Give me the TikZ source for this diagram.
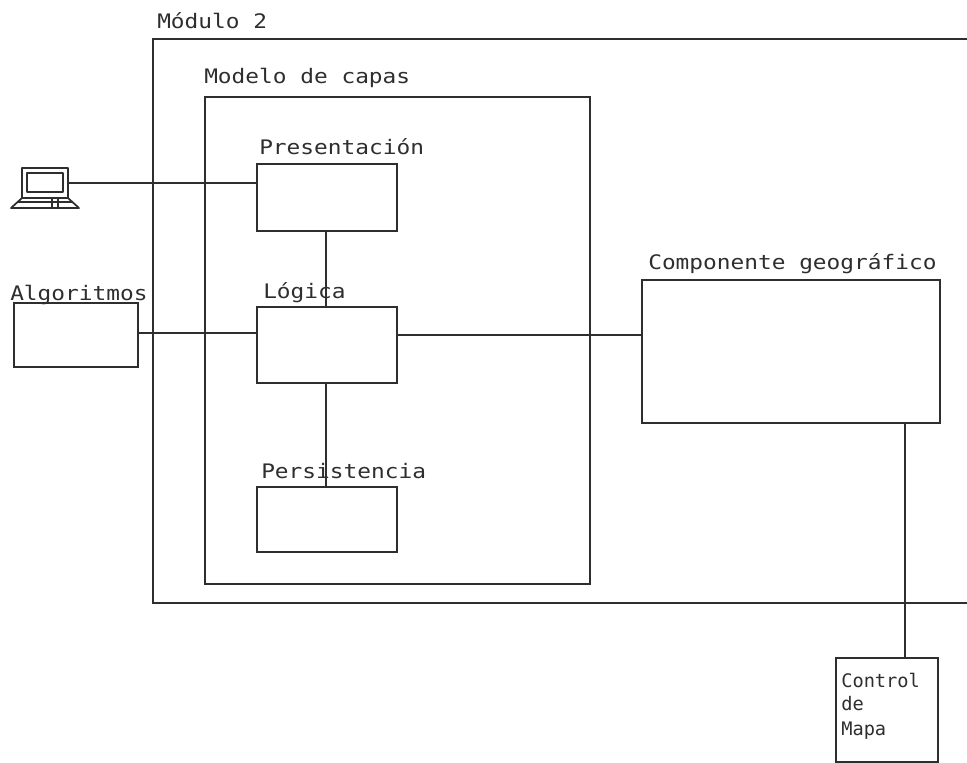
\documentclass[tikz,border=0pt]{standalone}
\usepackage{fontspec}
\setmainfont{DejaVu Sans Mono}
\newfontfamily\widemono[FakeStretch=1.14]{DejaVu Sans Mono}
\definecolor{ink}{gray}{0.18}
\tikzset{
  wire/.style={draw=ink,line width=1.2pt},
  box/.style={wire,inner sep=0pt,outer sep=0pt,shape=rectangle},
  lbl/.style={inner sep=0pt,anchor=base west,text=ink,font=\widemono\fontsize{15}{18}\selectfont},
  lblsmall/.style={inner sep=0pt,anchor=base west,text=ink,font=\fontsize{14}{17}\selectfont},
  pcline/.style={draw=ink,line join=round},
}
\begin{document}
\begin{tikzpicture}[x=0.75pt,y=-0.75pt]
\useasboundingbox (0,0) rectangle (967,763);
% outer module, open at the right edge
\coordinate (mtr) at (967,39);
\coordinate (mbr) at (967,603);
\draw[wire] (mtr) -- (153,39) -- (153,603) -- (mbr);
\node[lbl] (tmod) at (157,29) {Módulo 2};
% layers
\node[box,minimum width=288.75pt,minimum height=365.25pt] (capas) at (397.5,340.5) {};
\node[lbl] (tcapas) at (204,84) {Modelo de capas};
\node[box,minimum width=105pt,minimum height=50.25pt] (pres) at (327,197.5) {};
\node[lbl] (tpres) at (259,155) {Presentación};
\node[box,minimum width=105pt,minimum height=57pt] (logi) at (327,345) {};
\node[lbl] (tlogi) at (263,298) {Lógica};
\node[box,minimum width=105pt,minimum height=48.75pt] (pers) at (327,519.5) {};
\node[lbl] (tpers) at (261,478) {Persistencia};
% geographic component
\node[box,minimum width=223.5pt,minimum height=107.25pt] (geo) at (791,351.5) {};
\node[lbl] (tgeo) at (648,269) {Componente geográfico};
% algorithms
\node[box,minimum width=93pt,minimum height=48pt] (algo) at (76,335) {};
\node[lbl] (talgo) at (10,300) {Algoritmos};
% map control
\node[box,minimum width=76.5pt,minimum height=78pt] (ctrl) at (887,710) {};
\node[lblsmall] (tc1) at (841,687) {Control};
\node[lblsmall] (tc2) at (841,710) {de};
\node[lblsmall] (tc3) at (841,735) {Mapa};
% laptop
\node[inner sep=0pt,minimum width=34.5pt,minimum height=22.5pt] (pc) at (45,183) {};
\draw[pcline,line width=1.8pt] (pc.north west) rectangle (pc.south east);
\draw[pcline,line width=1pt] (27,173) rectangle (63,192);
\draw[pcline,line width=1.3pt] (pc.south west) -- (11,208) -- (79,208) -- (pc.south east);
\draw[pcline,line width=2pt] (11,208) -- (79,208);
\draw[pcline,line width=1.2pt] (18,202) -- (72,202) (52,198) -- (52,207) (58,198) -- (58,207);
% connectors
\coordinate (wx) at (326,300);
\coordinate (wl) at (200,333);
\coordinate (wr) at (500,335);
\draw[wire] (pc.east) -- (pc.east -| pres.west);
\draw[wire] (wx |- pres.south) -- (wx |- logi.north);
\draw[wire] (wx |- logi.south) -- (wx |- pers.north);
\draw[wire] (wl -| algo.east) -- (wl -| logi.west);
\draw[wire] (wr -| logi.east) -- (wr -| geo.west);
\coordinate (gx) at (905,423);
\draw[wire] (gx) -- (gx |- ctrl.north);
\end{tikzpicture}
\end{document}
